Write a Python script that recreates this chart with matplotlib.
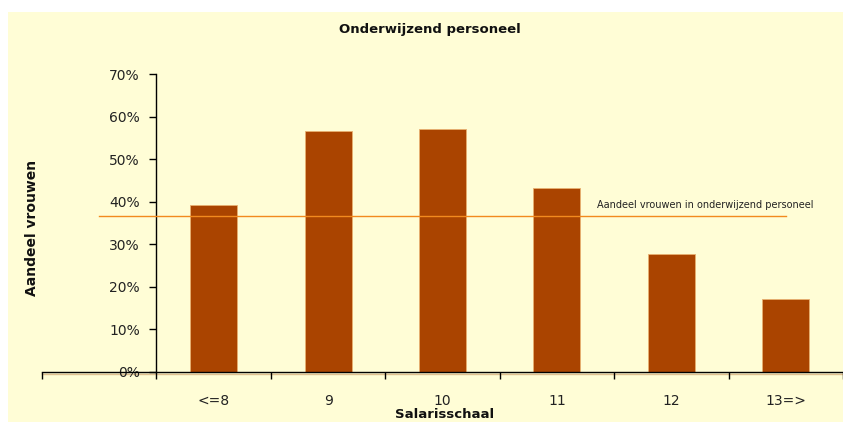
import matplotlib
matplotlib.use("Agg")
import matplotlib.pyplot as plt
from matplotlib.patches import Rectangle
from matplotlib.ticker import FuncFormatter
import matplotlib.transforms as mtransforms

# Share of women per salary scale, teaching staff
categories = ["", "<=8", "9", "10", "11", "12", "13=>"]
share_women = [None, 0.393, 0.567, 0.571, 0.432, 0.277, 0.171]
overall_share = 0.367
overall_label = "Aandeel vrouwen in onderwijzend personeel"
y_ticks = [0.0, 0.1, 0.2, 0.3, 0.4, 0.5, 0.6, 0.7]

bg = "#FFFDD6"
bar_color = "#AA4400"
line_color = "#F28A1E"

W, H = 843, 423
fig = plt.figure(figsize=(W / 100, H / 100), dpi=100, facecolor="white")

# chart area background
fig.patches.append(Rectangle((8 / W, 1.5 / H), 1 - 8 / W, (H - 12 - 1.5) / H,
                             transform=fig.transFigure, facecolor=bg,
                             edgecolor="none", zorder=-10))

left = 42 / W
bottom = (H - 371.7) / H
top = (H - 74.3) / H
ax = fig.add_axes([left, bottom, 1 - left, top - bottom])
ax.set_facecolor("none")

xs = list(range(1, len(categories) + 1))
bx = [x for x, v in zip(xs, share_women) if v is not None]
bv = [v for v in share_women if v is not None]
ax.bar(bx, bv, width=0.41, color=bar_color, edgecolor="#E8B070",
       linewidth=0.6, zorder=2)

ax.plot(xs, [overall_share] * len(xs), color=line_color, lw=1.0, zorder=3)
ax.text(5.35, 0.392, overall_label, fontsize=7, color="#222222",
        va="center", ha="left", zorder=4)

ax.set_xlim(0.5, len(categories) + 0.5)
ax.set_ylim(0, 0.7)

for s in ["top", "right"]:
    ax.spines[s].set_visible(False)
ax.spines["left"].set_position(("data", 1.5))
ax.spines["left"].set_linewidth(1.0)
ax.spines["bottom"].set_linewidth(1.0)
ax.spines["bottom"].set_zorder(5)

# light shadow under the category axis
shadow = mtransforms.offset_copy(ax.transData, fig=fig, x=0, y=-1.8, units="dots")
ax.plot([0.5, len(categories) + 0.5], [0, 0], color="#E0C090", lw=1.0,
        transform=shadow, clip_on=False, zorder=1)

ax.set_yticks(y_ticks)
ax.yaxis.set_major_formatter(FuncFormatter(lambda v, p: f"{v*100:.0f}%"))
ax.tick_params(axis="y", direction="out", length=5, width=1, pad=7,
               labelsize=10, labelcolor="#222222")

ax.set_xticks([x - 0.5 for x in xs] + [len(categories) + 0.5])
ax.set_xticklabels([])
ax.set_xticks(xs, minor=True)
ax.set_xticklabels(categories, minor=True)
ax.tick_params(axis="x", which="major", direction="out", length=5, width=1)
ax.tick_params(axis="x", which="minor", length=0, pad=16, labelsize=10,
               labelcolor="#222222")

fig.text(430 / W, 1 - 30 / H, "Onderwijzend personeel", ha="center",
         va="center", fontsize=9.5, fontweight="bold", color="#111111")
fig.text(32 / W, 1 - 228 / H, "Aandeel vrouwen", ha="center", va="center",
         rotation=90, fontsize=10, fontweight="bold", color="#111111")
fig.text(445 / W, 1 - 414 / H, "Salarisschaal", ha="center", va="center",
         fontsize=9.5, fontweight="bold", color="#111111")

fig.savefig("out.png", dpi=100, facecolor=fig.get_facecolor())
